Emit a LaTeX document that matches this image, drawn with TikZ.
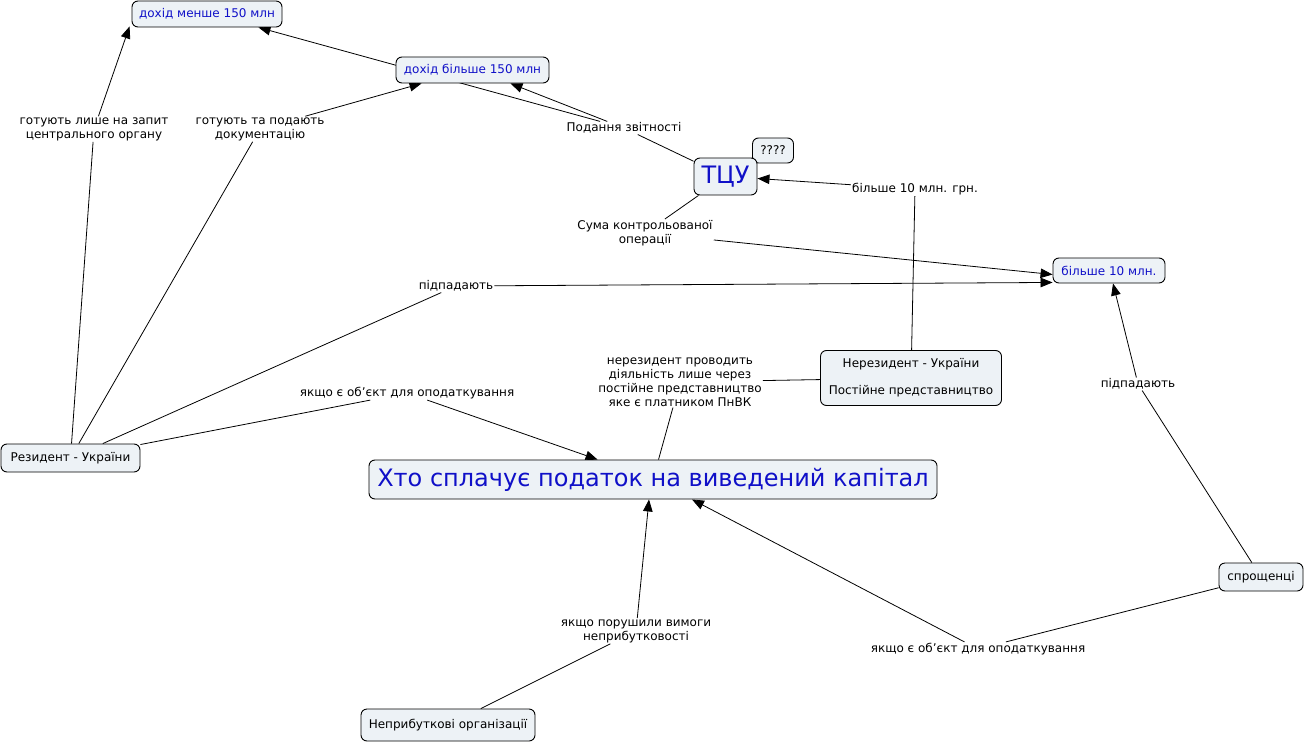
\documentclass[tikz,border=0pt]{standalone}
\usepackage{fontspec}
\setmainfont{DejaVu Sans}
\usetikzlibrary{arrows.meta,backgrounds}
\definecolor{boxfill}{HTML}{EDF2F6}
\definecolor{conceptblue}{HTML}{1010C8}
\tikzset{
  concept/.style={draw=black, line width=0.9pt, fill=boxfill, rounded corners=6pt, inner sep=0pt, align=center, font=\fontsize{12}{14}\selectfont},
  bluetext/.style={text=conceptblue},
  linklab/.style={inner sep=1pt, align=center, font=\fontsize{12}{14}\selectfont},
  conn/.style={draw=black, line width=0.8pt},
  arr/.style={conn, -{Triangle[length=12pt,width=9.5pt]}},
}
\begin{document}
\begin{tikzpicture}[x=1pt,y=-1pt]
\useasboundingbox (0,0) rectangle (1305,743);
% concepts
\node[concept,bluetext,minimum width=150,minimum height=26] (less) at (207,14) {дохід менше 150 млн};
\node[concept,bluetext,minimum width=153,minimum height=26] (more) at (472.5,70) {дохід більше 150 млн};
\node[concept,minimum width=41,minimum height=25] (q) at (773,150.5) {????};
\node[concept,bluetext,minimum width=63,minimum height=37,font=\fontsize{24}{26}\selectfont] (tcu) at (725.5,176.5) {ТЦУ};
\node[concept,bluetext,minimum width=112,minimum height=25] (b10) at (1109,270.5) {більше 10 млн.};
\node[concept,minimum width=181,minimum height=55,font=\fontsize{12}{14}\selectfont] (nonres) at (911,378) {Нерезидент - України\\[13pt]Постійне представництво};
\node[concept,minimum width=139,minimum height=28] (res) at (70.5,458) {Резидент - України};
\node[concept,bluetext,minimum width=568,minimum height=39,font=\fontsize{24}{26}\selectfont] (main) at (653,479.5) {Хто сплачує податок на виведений капітал};
\node[concept,minimum width=84,minimum height=28] (simp) at (1261,577) {спрощенці};
\node[concept,minimum width=174,minimum height=32] (np) at (448,725) {Неприбуткові організації};
% link labels
\node[linklab] (l1) at (94,129) {готують лише на запит\\центрального органу};
\node[linklab] (l2) at (260,129) {готують та подають\\документацію};
\node[linklab] (l3) at (624,128) {Подання звітності};
\node[linklab] (l4) at (645,233) {Сума контрольованої\\операції};
\node[linklab] (l5) at (915,189) {більше 10 млн. грн.};
\node[linklab] (l6) at (456,286) {підпадають};
\node[linklab] (l7) at (680,382) {нерезидент проводить\\діяльність лише через\\постійне представництво\\яке є платником ПнВК};
\node[linklab] (l8) at (407,393) {якщо є об'єкт для оподаткування};
\node[linklab] (l9) at (1138,384) {підпадають};
\node[linklab] (l10) at (636,631) {якщо порушили вимоги\\неприбутковості};
\node[linklab] (l11) at (978,649) {якщо є об'єкт для оподаткування};
% connectors
\begin{scope}[on background layer]
\draw[conn] (res) -- (l1);
\draw[arr] (l1) -- ([xshift=-2pt,yshift=1pt]less.south west);
\draw[conn] (res) -- (l2);
\draw[arr] (l2) -- ([xshift=26pt]more.south west);
\draw[conn] (res) -- (l6);
\draw[arr] (l6) -- ([yshift=1pt]b10.south west);
\draw[conn] (res) -- (l8);
\draw[arr] (l8) -- ([xshift=229pt]main.north west);
\draw[conn] (tcu) -- (l3);
\draw[arr] (l3) -- ([xshift=-24pt]less.south east);
\draw[arr] (l3) -- ([xshift=-39pt]more.south east);
\draw[conn] (tcu) -- (l4);
\draw[arr] (l4) -- ([yshift=-4pt]b10.west);
\draw[conn] (nonres) -- (l5);
\draw[arr] (l5) -- ([yshift=-2pt]tcu.east);
\draw[conn] (nonres) -- (l7);
\draw[conn] (l7) -- (main);
\draw[conn] (simp) -- (l9);
\draw[arr] (l9) -- ([xshift=4pt]b10.south);
\draw[conn] (simp) -- (l11);
\draw[arr] (l11) -- ([xshift=39pt]main.south);
\draw[conn] (np) -- (l10);
\draw[arr] (l10) -- ([xshift=-4pt]main.south);
\end{scope}
\end{tikzpicture}
\end{document}
